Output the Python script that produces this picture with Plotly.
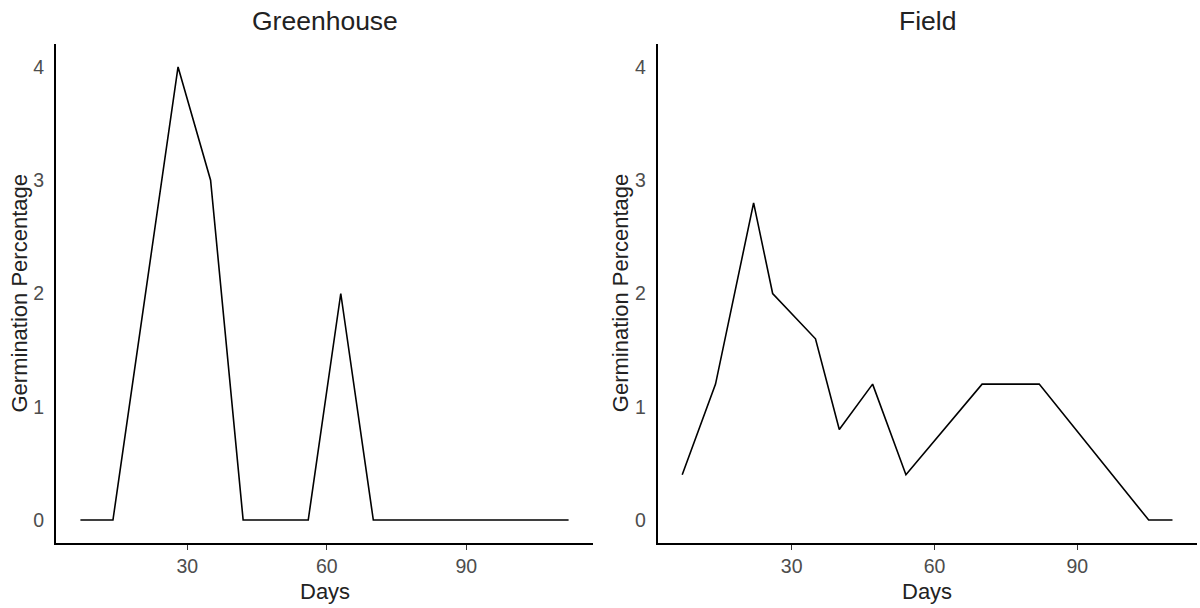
import plotly.graph_objects as go

# Data
greenhouse_days = [7, 14, 28, 35, 42, 56, 63, 70, 112]
greenhouse_pct = [0, 0, 4, 3, 0, 0, 2, 0, 0]

field_days = [7, 14, 22, 26, 35, 40, 47, 54, 70, 82, 105, 110]
field_pct = [0.4, 1.2, 2.8, 2.0, 1.6, 0.8, 1.2, 0.4, 1.2, 1.2, 0, 0]

x_ticks = [30, 60, 90]
y_ticks = [0, 1, 2, 3, 4]
panel_titles = ["Greenhouse", "Field"]

W, H = 1200, 608
FONT = "Liberation Sans, Arial, sans-serif"

# panel pixel geometry
left_px = [(56, 593), (657.7, 1197)]
top_px, bot_px = 44.3, 542.7

fig = go.Figure()
fig.add_trace(go.Scatter(x=greenhouse_days, y=greenhouse_pct, mode="lines",
                         line=dict(color="black", width=1.6), xaxis="x", yaxis="y",
                         showlegend=False, hoverinfo="x+y"))
fig.add_trace(go.Scatter(x=field_days, y=field_pct, mode="lines",
                         line=dict(color="black", width=1.6), xaxis="x2", yaxis="y2",
                         showlegend=False, hoverinfo="x+y"))

def xr(days):
    lo, hi = min(days), max(days)
    pad = 0.05 * (hi - lo)
    return [lo - pad, hi + pad]

ydom = [(H - bot_px) / H, (H - top_px) / H]
common_x = dict(showline=True, linecolor="black", linewidth=1.8, showgrid=False,
                zeroline=False, ticks="outside", ticklen=5, tickwidth=1.2,
                tickcolor="#333333", tickvals=x_ticks,
                tickfont=dict(family=FONT, size=19.5, color="#4d4d4d"))
common_y = dict(showline=True, linecolor="black", linewidth=1.8, showgrid=False,
                zeroline=False, ticks="outside", ticklen=6, tickcolor="rgba(0,0,0,0)",
                tickvals=y_ticks, range=[-0.2, 4.2], domain=ydom,
                tickfont=dict(family=FONT, size=19.5, color="#4d4d4d"))

fig.update_layout(
    width=W, height=H,
    margin=dict(l=0, r=0, t=0, b=0),
    paper_bgcolor="white", plot_bgcolor="white",
    xaxis=dict(common_x, domain=[left_px[0][0] / W, left_px[0][1] / W],
               range=xr(greenhouse_days), anchor="y"),
    yaxis=dict(common_y, anchor="x"),
    xaxis2=dict(common_x, domain=[left_px[1][0] / W, left_px[1][1] / W],
                range=xr(field_days), anchor="y2"),
    yaxis2=dict(common_y, anchor="x2"),
)

annots = []
for i, (l, r) in enumerate(left_px):
    cx = (l + r) / 2 / W
    annots.append(dict(text=panel_titles[i], x=cx, y=(H - 21) / H, xref="paper", yref="paper",
                       showarrow=False, xanchor="center", yanchor="middle",
                       font=dict(family=FONT, size=26.5, color="#222222")))
    annots.append(dict(text="Days", x=cx, y=(H - 591) / H, xref="paper", yref="paper",
                       showarrow=False, xanchor="center", yanchor="middle",
                       font=dict(family=FONT, size=22, color="#222222")))
    annots.append(dict(text="Germination Percentage", x=(l - 37) / W,
                       y=(H - (top_px + bot_px) / 2) / H, xref="paper", yref="paper",
                       showarrow=False, xanchor="center", yanchor="middle", textangle=-90,
                       font=dict(family=FONT, size=22, color="#222222")))
fig.update_layout(annotations=annots)

fig.write_html("out.html")
